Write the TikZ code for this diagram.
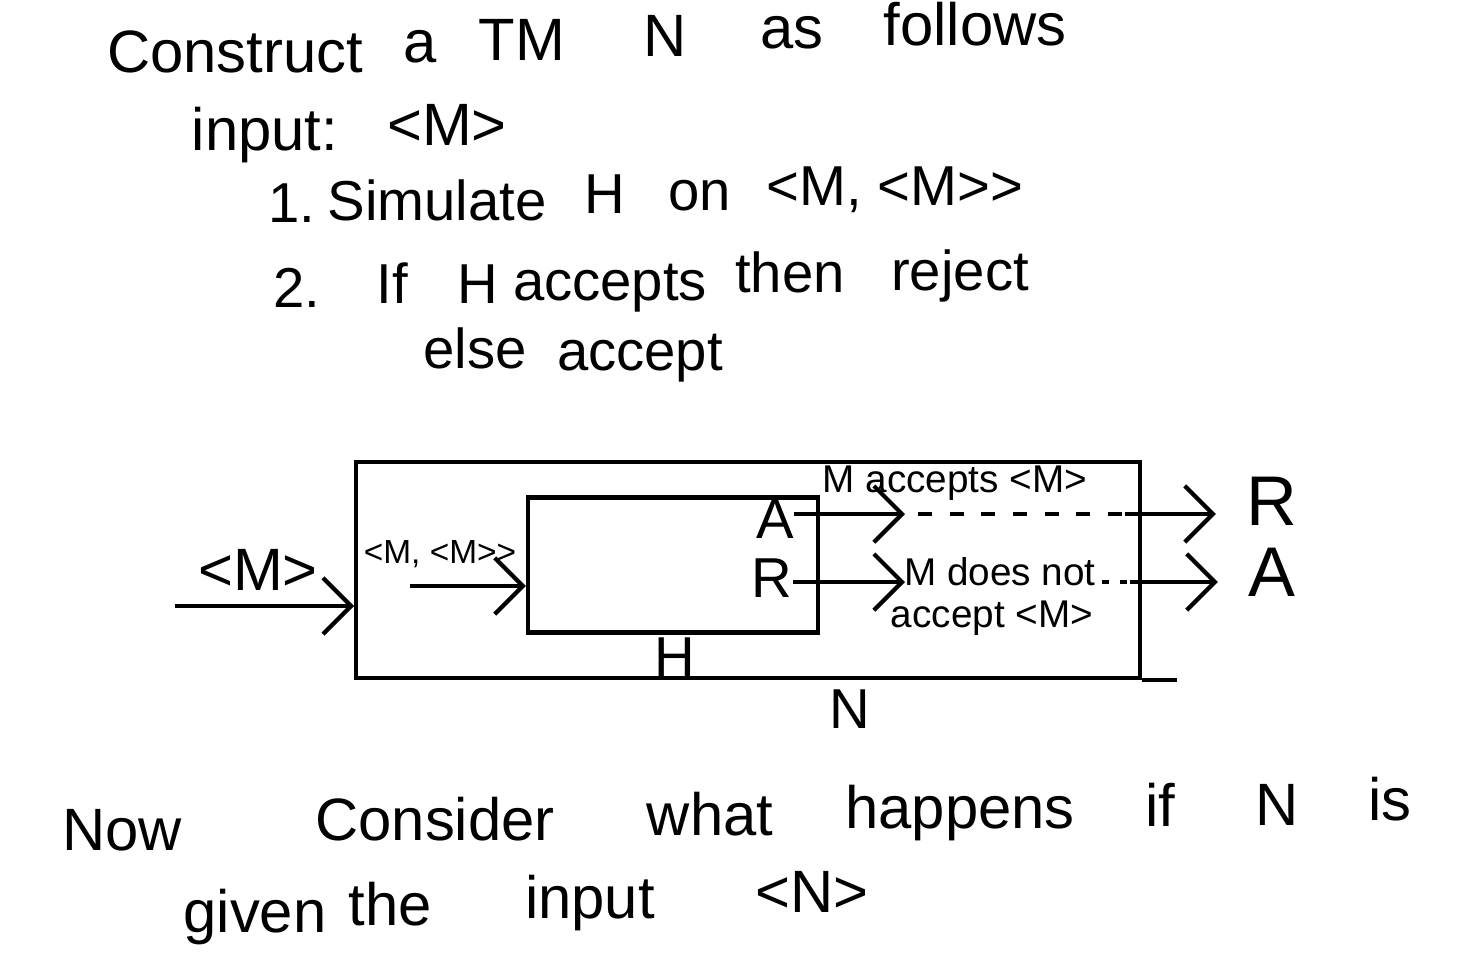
\documentclass[tikz,border=0pt]{standalone}
\usepackage{fontspec}
\setmainfont{Liberation Sans}
\usetikzlibrary{arrows.meta}
\begin{document}
\begin{tikzpicture}[x=0.01cm,y=-0.01cm,
  txt/.style={inner sep=0pt,anchor=base,font=\fontsize{16}{19}\selectfont},
  big/.style={inner sep=0pt,anchor=base,font=\fontsize{17}{20}\selectfont},
  lab/.style={inner sep=0pt,anchor=base,font=\fontsize{11}{13}\selectfont},
  huge/.style={inner sep=0pt,anchor=base,font=\fontsize{20}{24}\selectfont},
  boxn/.style={draw,line width=1.2pt,rectangle,inner sep=0pt},
  ln/.style={line width=1.2pt},
  chev/.style={line width=1.2pt,-{Straight Barb[length=8pt,width=16pt]}},
  dots/.style={line width=1.2pt,dash pattern=on 4pt off 5pt}]
\useasboundingbox (0,0) rectangle (1459,959);
% line 1
\node[big] (w1) at (235,72) {Construct};
\node[big] (w2) at (420,62) {a};
\node[big] (w3) at (522,60) {TM};
\node[big] (w4) at (665,56) {N};
\node[big] (w5) at (792,48) {as};
\node[big] (w6) at (975,45) {follows};
% line 2
\node[big] (i1) at (265,150) {input:};
\node[big] (i2) at (447,145) {<M>};
% line 3
\node[txt] (s1) at (292,222) {1.};
\node[txt] (s2) at (437,220) {Simulate};
\node[txt] (s3) at (605,213) {H};
\node[txt] (s4) at (700,210) {on};
\node[txt] (s5) at (895,205) {<M, <M>{}>};
% line 4
\node[txt] (t1) at (297,307) {2.};
\node[txt] (t2) at (392,303) {If};
\node[txt] (t3) at (478,303) {H};
\node[txt] (t4) at (610,300) {accepts};
\node[txt] (t5) at (790,292) {then};
\node[txt] (t6) at (960,290) {reject};
% line 5
\node[txt] (e1) at (475,368) {else};
\node[txt] (e2) at (640,370) {accept};
% diagram
\node[boxn,minimum width=7.83cm,minimum height=2.16cm] (N) at (748,570) {};
\node[boxn,minimum width=2.9cm,minimum height=1.35cm] (H) at (673,565) {};
\draw[ln] (N.south east) -- ++(35,0);
\coordinate (in0) at (175,606);
\coordinate (in1) at (N.west |- in0);
\draw[chev] (in0) -- (in1);
\node[big] (lm) at (258,590) {<M>};
\node[inner sep=0pt,anchor=base,font=\fontsize{9.5}{12}\selectfont] (lmm) at (440,563) {<M, <M>{}>};
\coordinate (h0) at (410,586);
\coordinate (h1) at (H.west |- h0);
\draw[chev] (h0) -- (h1);
\node[txt] (hA) at (775,538) {A};
\node[txt] (hR) at (772,597) {R};
\node[txt] (hH) at (675,676) {H};
\node[txt] (nN) at (850,728) {N};
% upper path
\coordinate (a1) at (905,514);
\coordinate (a2) at (918,514);
\coordinate (a3) at (1125,514);
\draw[chev] (hA.east |- a1) -- (a1);
\draw[dots] (a2) -- (a3);
\node[huge] (oR) at (1272,525) {R};
\draw[chev] (a3) -- ([xshift=-0.3cm]oR.west |- a3);
\node[lab] (acc) at (955,492) {M accepts <M>};
% lower path
\coordinate (b1) at (905,582);
\draw[chev] (hR.east |- b1) -- (b1);
\node[lab] (dn1) at (1000,585) {M does not};
\node[lab] (dn2) at (992,627) {accept <M>};
\coordinate (b2) at (1102,582);
\coordinate (b3) at (1130,582);
\draw[ln,dash pattern=on 2pt off 3pt] (b2) -- (b3);
\node[huge] (oA) at (1272,596) {A};
\draw[chev] (b3) -- ([xshift=-0.3cm]oA.west |- b3);
% line 6
\node[big] (n1) at (122,850) {Now};
\node[big] (n2) at (435,840) {Consider};
\node[big] (n3) at (710,835) {what};
\node[big] (n4) at (960,828) {happens};
\node[big] (n5) at (1160,826) {if};
\node[big] (n6) at (1277,825) {N};
\node[big] (n7) at (1390,820) {is};
% line 7
\node[big] (g1) at (255,932) {given};
\node[big] (g2) at (390,925) {the};
\node[big] (g3) at (590,918) {input};
\node[big] (g4) at (812,912) {<N>};
\end{tikzpicture}
\end{document}
